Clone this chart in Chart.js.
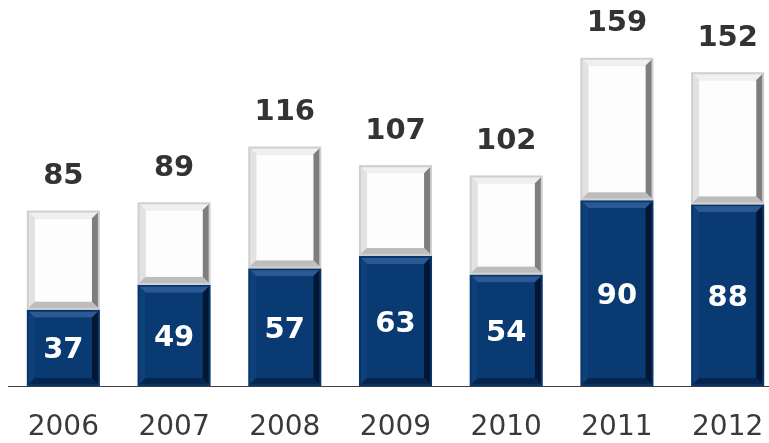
<!DOCTYPE html>
<html>
<head>
<meta charset="utf-8">
<script src="https://cdn.jsdelivr.net/npm/chart.js@4/dist/chart.umd.min.js"></script>
<style>
  html, body { margin:0; padding:0; background:#fff; overflow:hidden; }
  #wrap { width:790px; height:443px; }
</style>
</head>
<body>
<div id="wrap"><canvas id="c" width="790" height="443"></canvas></div>
<script>
// values
const years = ['2006','2007','2008','2009','2010','2011','2012'];
const lowerVals = [37, 49, 57, 63, 54, 90, 88];
const totalVals = [85, 89, 116, 107, 102, 159, 152];
const upperVals = totalVals.map((t, i) => t - lowerVals[i]);

const NAVY = { face:'#0a3a72', top:'#2a5994', left:'#0e4079', right:'#031633', bottom:'#06264f', edge:'#0a356a' };
const GREY = { face:'#fdfdfd', top:'#f0f0f0', left:'#e2e2e2', right:'#7e7e7e', bottom:'#bdbdbd', edge:'#cfcfcf' };

function bevel(ctx, L, T, R, B, c){
  const d = 6;
  const poly = (pts, col) => {
    ctx.fillStyle = col; ctx.beginPath();
    ctx.moveTo(pts[0][0], pts[0][1]);
    for (let i = 1; i < pts.length; i++) ctx.lineTo(pts[i][0], pts[i][1]);
    ctx.closePath(); ctx.fill();
  };
  ctx.fillStyle = c.edge; ctx.fillRect(L, T, R-L, B-T);
  const l = L+2, t = T+2, r = R-2, b = B-2;
  poly([[l,t],[r,t],[r-d,t+d],[l+d,t+d]], c.top);
  poly([[l,t],[l+d,t+d],[l+d,b-d],[l,b]], c.left);
  poly([[r,t],[r,b],[r-d,b-d],[r-d,t+d]], c.right);
  poly([[l,b],[l+d,b-d],[r-d,b-d],[r,b]], c.bottom);
  ctx.fillStyle = c.face; ctx.fillRect(l+d, t+d, r-l-2*d, b-t-2*d);
}

const bevelBars = {
  id:'bevelBars',
  afterDatasetsDraw(chart){
    const ctx = chart.ctx;
    ctx.save();
    [0,1].forEach(di => {
      chart.getDatasetMeta(di).data.forEach(el => {
        const L = el.x - el.width/2, R = el.x + el.width/2;
        bevel(ctx, L, el.y, R, el.base, di === 0 ? NAVY : GREY);
      });
    });
    // labels
    ctx.textAlign = 'center'; ctx.textBaseline = 'middle';
    ctx.font = 'bold 29px "DejaVu Sans", Verdana, sans-serif';
    chart.getDatasetMeta(0).data.forEach((el, i) => {
      ctx.fillStyle = '#ffffff';
      ctx.fillText(String(lowerVals[i]), el.x, (el.y + el.base)/2 + 3);
    });
    chart.getDatasetMeta(1).data.forEach((el, i) => {
      ctx.fillStyle = '#333333';
      ctx.fillText(String(totalVals[i]), el.x, el.y - 34);
    });
    ctx.restore();
  }
};

new Chart(document.getElementById('c'), {
  type:'bar',
  data:{
    labels: years,
    datasets:[
      { data: lowerVals, backgroundColor:'rgba(0,0,0,0)', barPercentage:0.66, categoryPercentage:1 },
      { data: upperVals, backgroundColor:'rgba(0,0,0,0)', barPercentage:0.66, categoryPercentage:1 }
    ]
  },
  options:{
    responsive:false, animation:false,
    layout:{ padding:{ left:8, right:7, top:0, bottom:0 } },
    plugins:{ legend:{display:false}, tooltip:{enabled:false} },
    scales:{
      x:{
        stacked:true,
        grid:{ display:false, drawTicks:false },
        border:{ display:true, color:'#404040', width:1 },
        ticks:{ color:'#3a3a3a', padding:25, font:{ family:'"DejaVu Sans", Verdana, sans-serif', size:28 } },
        afterFit(s){ s.height = 57; }
      },
      y:{ stacked:true, display:false, min:0, max:187 }
    }
  },
  plugins:[bevelBars]
});
</script>
</body>
</html>
